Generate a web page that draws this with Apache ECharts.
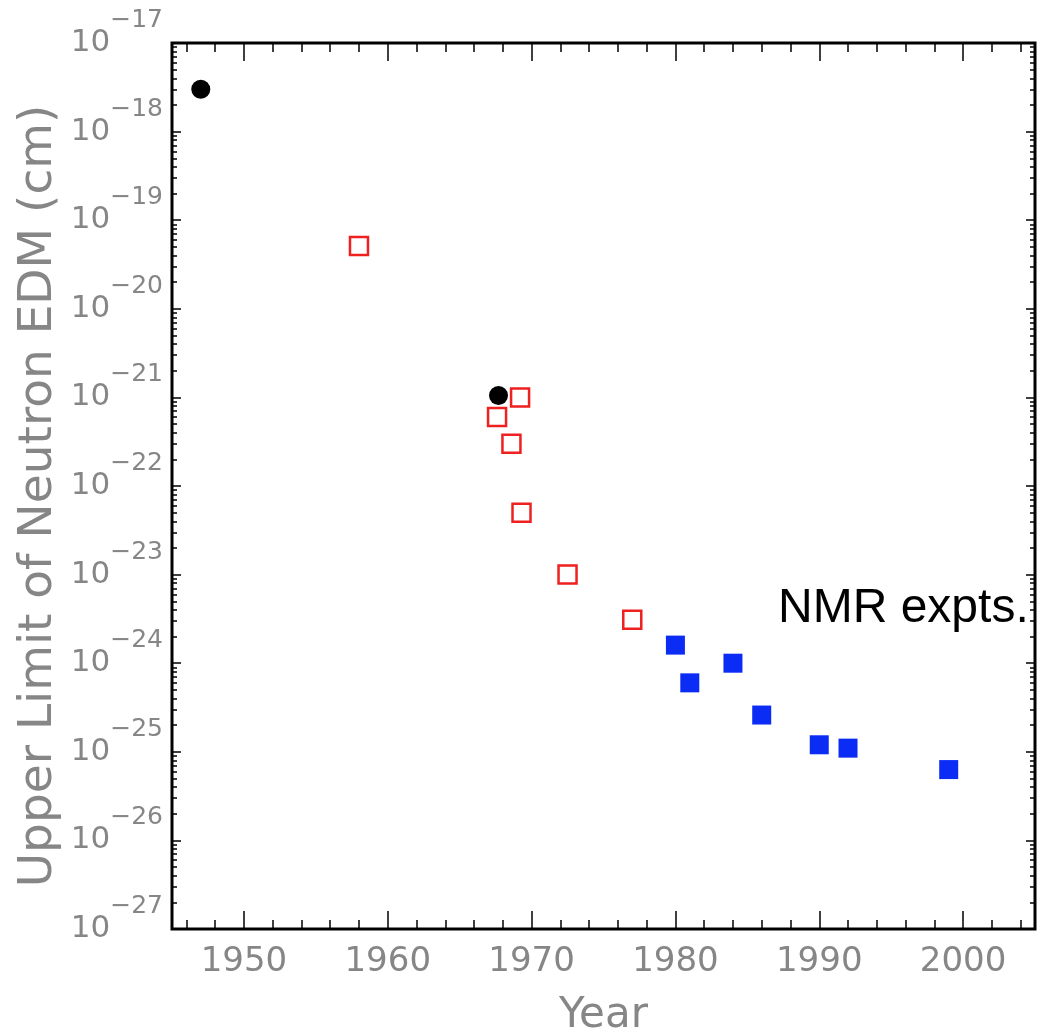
<!DOCTYPE html>
<html>
<head>
<meta charset="utf-8">
<title>Neutron EDM limits</title>
<script src="https://cdn.jsdelivr.net/npm/echarts@6/dist/echarts.min.js"></script>
<style>
  html, body { margin: 0; padding: 0; background: #fff; }
  #chart { width: 1040px; height: 1031px; }
</style>
</head>
<body>
<div id="chart"></div>
<script>
// values: year, upper limit (cm)
const BLACK_YEARS = [1947, 1967.7];
const BLACK_LIMITS = [3.0e-18, 1.05e-21];

const RED_YEARS = [1958, 1969.2, 1967.6, 1968.6, 1969.3, 1972.5, 1977];
const RED_LIMITS = [5.1e-20, 1.0e-21, 6.0e-22, 3.0e-22, 5.0e-23, 1.0e-23, 3.1e-24];

const BLUE_YEARS = [1980, 1981, 1984, 1986, 1990, 1992, 1999];
const BLUE_LIMITS = [1.6e-24, 6.0e-25, 1.0e-24, 2.6e-25, 1.2e-25, 1.1e-25, 6.3e-26];

const YEAR_LABELS = [1950, 1960, 1970, 1980, 1990, 2000];
const YEAR_MIN = 1945;
const YEAR_MAX = 2005;
const EXP_MIN = -27;
const EXP_MAX = -17;

const GRAY = '#868686';
const FONT = 'DejaVu Sans';

function pairs(xs, ys) {
  return xs.map((x, i) => [x, ys[i]]);
}

// tick positions for the helper axes (log10 space on y)
let minorYears = [];
for (let y = YEAR_MIN + 1; y < YEAR_MAX; y += 2) minorYears.push(y);

let decades = [];
let minorLogs = [];
for (let n = EXP_MIN; n <= EXP_MAX; n++) {
  decades.push(n);
  if (n === EXP_MAX) break;
  for (let k = 2; k <= 9; k++) minorLogs.push(n + Math.log10(k));
}

function tickAxis(base, values, length) {
  return Object.assign({
    show: true,
    axisLine: { show: false },
    axisLabel: { show: false },
    splitLine: { show: false },
    axisTick: {
      show: true,
      inside: true,
      length: length,
      customValues: values,
      lineStyle: { color: '#000', width: 1.5 }
    }
  }, base);
}

let decadeAxis = tickAxis({ type: 'value', min: EXP_MIN, max: EXP_MAX, position: 'left' }, decades, 9);
decadeAxis.axisLabel = {
  show: true,
  customValues: decades,
  margin: 9,
  showMinLabel: true,
  showMaxLabel: true,
  hideOverlap: false,
  formatter: v => '{b|10}{e|\u2212' + Math.abs(Math.round(v)) + '}',
  rich: {
    b: { color: GRAY, fontFamily: FONT, fontSize: 31, lineHeight: 70, verticalAlign: 'middle' },
    e: { color: GRAY, fontFamily: FONT, fontSize: 25, lineHeight: 25, verticalAlign: 'top' }
  }
};

let chart = echarts.init(document.getElementById('chart'), null, { renderer: 'canvas' });

chart.setOption({
  backgroundColor: '#fff',
  animation: false,
  grid: {
    left: 172,
    right: 5,
    top: 43,
    bottom: 102,
    show: true,
    borderColor: '#000',
    borderWidth: 3,
    containLabel: false,
    outerBoundsMode: 'none'
  },
  xAxis: [
    {
      type: 'value',
      min: YEAR_MIN,
      max: YEAR_MAX,
      position: 'bottom',
      name: 'Year',
      nameLocation: 'middle',
      nameGap: 66,
      nameMoveOverlap: false,
      nameTextStyle: { color: GRAY, fontFamily: FONT, fontSize: 42 },
      axisLine: { show: false },
      splitLine: { show: false },
      axisTick: {
        show: true,
        inside: true,
        length: 18,
        customValues: YEAR_LABELS,
        lineStyle: { color: '#000', width: 1.5 }
      },
      axisLabel: {
        customValues: YEAR_LABELS,
        formatter: v => String(v),
        margin: 16,
        color: GRAY,
        fontFamily: FONT,
        fontSize: 34
      }
    },
    tickAxis({ type: 'value', min: YEAR_MIN, max: YEAR_MAX, position: 'bottom' }, minorYears, 9),
    tickAxis({ type: 'value', min: YEAR_MIN, max: YEAR_MAX, position: 'top' }, YEAR_LABELS, 18),
    tickAxis({ type: 'value', min: YEAR_MIN, max: YEAR_MAX, position: 'top' }, minorYears, 9)
  ],
  yAxis: [
    {
      type: 'log',
      logBase: 10,
      min: Math.pow(10, EXP_MIN),
      max: Math.pow(10, EXP_MAX),
      position: 'left',
      name: 'Upper Limit of Neutron EDM (cm)',
      nameLocation: 'middle',
      nameRotate: 90,
      nameGap: 110,
      nameMoveOverlap: false,
      nameTextStyle: { color: GRAY, fontFamily: FONT, fontSize: 47, padding: [0, 20, 0, 0] },
      axisLine: { show: false },
      axisTick: { show: false },
      axisLabel: { show: false },
      splitLine: { show: false }
    },
    decadeAxis,
    tickAxis({ type: 'value', min: EXP_MIN, max: EXP_MAX, position: 'left' }, minorLogs, 5),
    tickAxis({ type: 'value', min: EXP_MIN, max: EXP_MAX, position: 'right' }, decades, 9),
    tickAxis({ type: 'value', min: EXP_MIN, max: EXP_MAX, position: 'right' }, minorLogs, 5)
  ],
  series: [
    {
      name: 'open',
      type: 'scatter',
      symbol: 'rect',
      symbolSize: 18,
      data: pairs(RED_YEARS, RED_LIMITS),
      itemStyle: { color: '#fff', borderColor: '#ee2020', borderWidth: 2.5, opacity: 1 },
      z: 3
    },
    {
      name: 'first',
      type: 'scatter',
      symbol: 'circle',
      symbolSize: 19,
      data: pairs(BLACK_YEARS, BLACK_LIMITS),
      itemStyle: { color: '#000', opacity: 1 },
      z: 4
    },
    {
      name: 'nmr',
      type: 'scatter',
      symbol: 'rect',
      symbolSize: 19,
      data: pairs(BLUE_YEARS, BLUE_LIMITS),
      itemStyle: { color: '#0a2cf5', opacity: 1 },
      z: 4
    }
  ],
  graphic: [
    {
      type: 'text',
      left: 778,
      top: 585,
      style: {
        text: 'NMR expts.',
        font: '48px "Liberation Sans"',
        fill: '#000'
      }
    }
  ]
});
</script>
</body>
</html>
